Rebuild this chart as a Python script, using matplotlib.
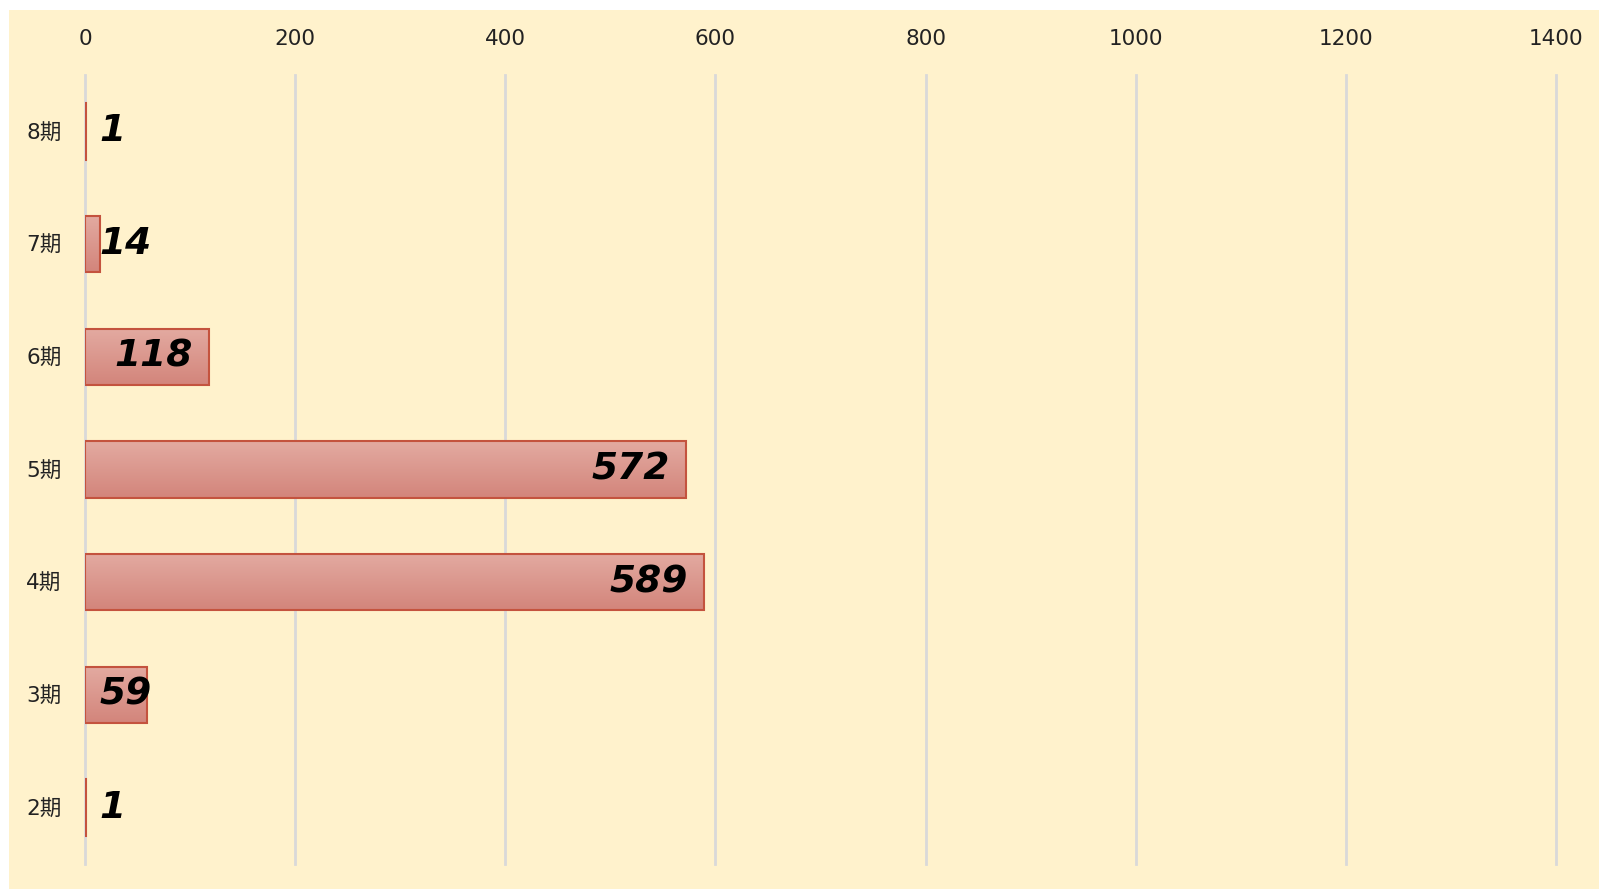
import matplotlib
matplotlib.use('Agg')
import matplotlib.pyplot as plt
import numpy as np
from matplotlib.colors import LinearSegmentedColormap
from matplotlib.patches import Rectangle

# data, top to bottom as in the chart
periods = ['8期', '7期', '6期', '5期', '4期', '3期', '2期']
counts = [1, 14, 118, 572, 589, 59, 1]
xticks = [0, 200, 400, 600, 800, 1000, 1200, 1400]

plt.rcParams['font.family'] = ['DejaVu Sans', 'Noto Sans CJK JP']

fig = plt.figure(figsize=(15.99, 8.89), dpi=100, facecolor='white')
# yellow chart area, white strip on the left and top
fig.patches.append(Rectangle((9 / 1599, 0), 1, 1 - 10 / 889, transform=fig.transFigure,
                             facecolor='#FFF2CC', edgecolor='none', zorder=-10))

ax = fig.add_axes([85 / 1599, 1 - 864 / 889, (1556 - 85) / 1599, (864 - 75) / 889])
ax.set_facecolor('none')
ax.set_zorder(1)

ypos = np.arange(len(periods))
bars = ax.barh(ypos, counts, height=0.5, facecolor='none', edgecolor='#C4533E',
               linewidth=1.5, zorder=3.2)

# vertical gradient inside each bar
cmap = LinearSegmentedColormap.from_list('barfill', ['#E3AAA1', '#D3857B'])
grad = np.linspace(0, 1, 64).reshape(-1, 1)
for b in bars:
    x0, y0 = b.get_x(), b.get_y()
    w, h = b.get_width(), b.get_height()
    im = ax.imshow(grad, cmap=cmap, aspect='auto', extent=(x0, x0 + w, y0 + h, y0),
                   zorder=3.0, interpolation='bicubic')
    im.set_clip_path(b)
ax.set_xlim(0, 1400)
ax.set_ylim(len(periods) - 0.5, -0.5)

ax.set_xticks(xticks)
ax.xaxis.tick_top()
ax.tick_params(axis='x', length=0, pad=19, labelsize=15.5, labelcolor='#222222')
ax.set_yticks(ypos)
ax.set_yticklabels(periods)
ax.tick_params(axis='y', length=0, pad=17, labelsize=15.5, labelcolor='#222222')
ax.grid(axis='x', color='#D9D9D9', linewidth=2, zorder=1)
ax.grid(axis='y', visible=False)
ax.set_axisbelow(True)
for gl in ax.get_xgridlines():
    gl.set_clip_on(False)
for s in ax.spines.values():
    s.set_visible(False)

# value labels: inside end, pushed right if the bar is too short
fig.canvas.draw()
renderer = fig.canvas.get_renderer()
px = 1471 / 1400  # pixels per data unit
for y, v in zip(ypos, counts):
    t = ax.text(v - 16 / px, y, str(v), ha='right', va='center', fontsize=27,
                fontweight='bold', fontstyle='italic', color='black', zorder=5)
    wpx = t.get_window_extent(renderer).width
    if (v - 16 / px) * px - wpx < 14:
        t.set_x(14 / px)
        t.set_ha('left')

fig.savefig('out.png', dpi=100, facecolor='white')
